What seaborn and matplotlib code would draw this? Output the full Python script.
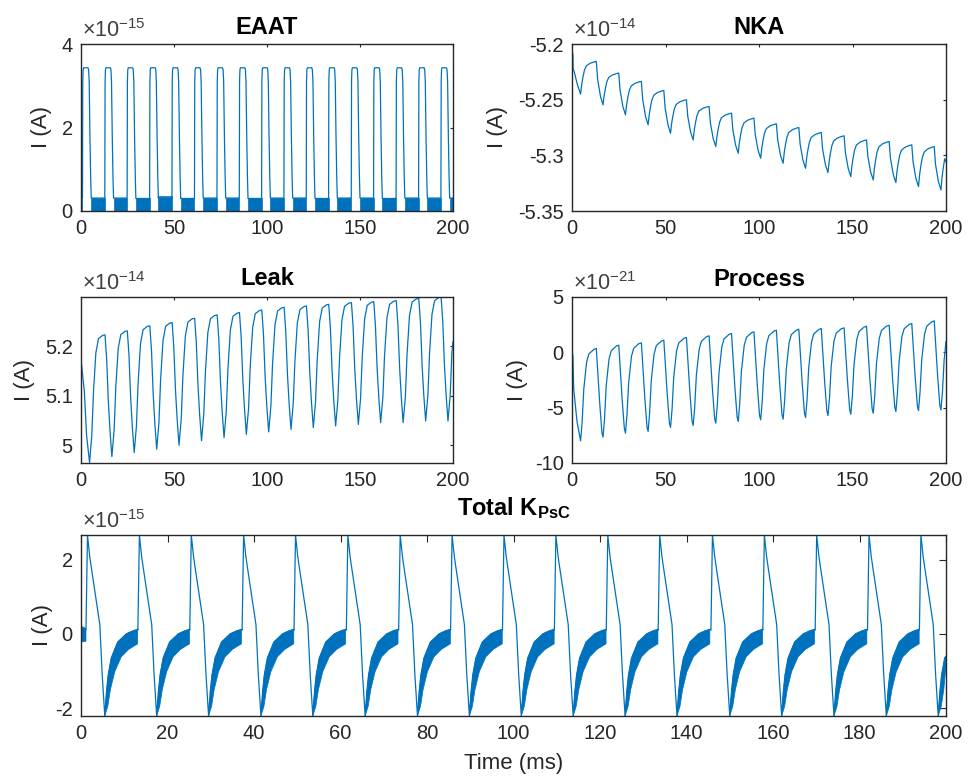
import numpy as np
import matplotlib
matplotlib.use("Agg")
import matplotlib.pyplot as plt
import seaborn as sns

# ------------------------------------------------------------------
# Values
# ------------------------------------------------------------------
# time (ms) of each Total K_PsC spike peak (17 cycles)
peak_times = [1.5, 13.5, 25.5, 37.6, 49.6, 61.7, 73.8, 85.8, 97.8,
              109.8, 121.8, 133.8, 146.0, 158.0, 170.1, 182.2, 194.2]

# ---- EAAT (x1e-15 A): one pulse, ms relative to peak time
eaat_pulse_off = [-0.7, -0.55, -0.35, -0.1, 2.3, 2.6, 2.9, 3.3, 3.7, 4.0]
eaat_pulse_val = [0.31, 3.1, 3.38, 3.43, 3.43, 3.38, 3.1, 1.8, 0.8, 0.31]
# upper edge of the dense band between pulses (one per gap)
eaat_band_top = [0.31, 0.31, 0.30, 0.34, 0.30, 0.31, 0.31, 0.30, 0.31,
                 0.31, 0.30, 0.31, 0.31, 0.30, 0.31, 0.31, 0.31]
eaat_band_bottom = 0.0

# ---- NKA (x1e-14 A)
nka_start_t = [0.0, 0.5, 0.6, 1.3, 2.8]
nka_start_v = [-5.205, -5.210, -5.222, -5.2256, -5.236]
nka_peaks = [-5.205, -5.2156, -5.2261, -5.2336, -5.2417, -5.2501, -5.2561,
             -5.2621, -5.2666, -5.2717, -5.2750, -5.2795, -5.2825, -5.2861,
             -5.2876, -5.2906, -5.2921]
nka_troughs = [-5.2450, -5.2546, -5.2636, -5.2726, -5.2801, -5.2861, -5.2921,
               -5.2981, -5.3026, -5.3071, -5.3116, -5.3155, -5.3191, -5.3221,
               -5.3245, -5.3281, -5.3311]
nka_end = -5.306
nka_drop_off = [-3.6, -2.9, -1.4, 0.0]
nka_drop_frac = [0.0, 0.41, 0.80, 1.0]
nka_rise_off = [0.0, 0.6, 1.2, 2.0, 3.0, 5.0, 7.0]
nka_rise_frac = [0.0, 0.30, 0.50, 0.72, 0.86, 0.94, 0.98]

# ---- Leak (x1e-14 A)
leak_start_t = [0.0, 0.1, 1.8, 3.0]
leak_start_v = [5.213, 5.170, 5.109, 5.020]
leak_peaks = [5.213, 5.2235, 5.2315, 5.2416, 5.2483, 5.2570, 5.2637, 5.2685,
              5.2738, 5.2792, 5.2819, 5.2852, 5.2886, 5.2906, 5.2926, 5.2973,
              5.3000]
leak_troughs = [4.965, 4.977, 4.985, 4.992, 5.000, 5.009, 5.0155, 5.022,
                5.027, 5.032, 5.0356, 5.039, 5.042, 5.0456, 5.0456, 5.049,
                5.049]
leak_end = 5.21
leak_drop_off = [-3.7, -2.8, -1.9, -1.0, 0.0]
leak_drop_frac = [0.0, 0.20, 0.55, 0.79, 1.0]
leak_rise_off = [0.0, 1.2, 2.1, 3.4, 4.8, 7.0]
leak_rise_frac = [0.0, 0.21, 0.55, 0.86, 0.97, 0.995]

# ---- Process (x1e-21 A)
proc_start_t = [0.0, 0.5, 0.9, 2.7]
proc_start_v = [0.02, -0.3, -3.28, -6.28]
proc_peaks = [0.02, 0.35, 0.65, 0.86, 1.10, 1.34, 1.49, 1.70, 1.85, 2.00,
              2.09, 2.15, 2.21, 2.36, 2.45, 2.60, 2.84]
proc_troughs = [-8.0, -7.66, -7.30, -7.15, -6.79, -6.61, -6.40, -6.25, -6.10,
                -6.04, -5.89, -5.71, -5.59, -5.50, -5.35, -5.26, -5.20]
proc_end = 1.0
proc_drop_off = [-3.6, -2.9, -1.8, -0.6, 0.0]
proc_drop_frac = [0.0, 0.23, 0.61, 0.95, 1.0]
proc_rise_off = [0.0, 0.8, 1.7, 3.2, 4.4, 7.1]
proc_rise_frac = [0.0, 0.20, 0.56, 0.85, 0.94, 0.99]

# ---- Total K_PsC (x1e-15 A): spike, ms relative to peak time
tot_spike_off = [-0.35, 0.0, 0.5, 0.8, 2.85, 3.4, 4.0]
tot_spike_val = [0.10, 2.66, 2.10, 1.85, 0.25, -1.10, -2.21]
# dense recovery band, ms relative to trough
tot_up_off = [0.0, 0.4, 0.8, 1.5, 3.0, 5.0, 6.5, 7.6]
tot_up_val = [-2.21, -1.55, -1.10, -0.65, -0.22, 0.0, 0.08, 0.12]
tot_lo_off = [0.0, 0.7, 1.3, 2.3, 3.8, 5.5, 7.0, 7.6]
tot_lo_val = [-2.21, -1.95, -1.50, -1.02, -0.62, -0.42, -0.31, -0.27]
tot_start_up = [0.20, 0.15]
tot_start_lo = [-0.22, -0.20]
tot_end_up = -0.60
tot_end_lo = -0.85

TROUGH_LAG = 3.1
BLUE = "#0072BD"
GREY = "#262626"

# ------------------------------------------------------------------
sns.set_theme(style="white")
plt.rcParams["font.family"] = ["Liberation Sans", "DejaVu Sans"]
plt.rcParams["mathtext.fontset"] = "custom"
plt.rcParams["mathtext.rm"] = "Liberation Sans"
plt.rcParams["mathtext.bf"] = "Liberation Sans:bold"
plt.rcParams["mathtext.it"] = "Liberation Sans:italic"
plt.rcParams["mathtext.sf"] = "Liberation Sans"
plt.rcParams["axes.unicode_minus"] = False


def build_smooth(start_t, start_v, peaks, troughs, d_off, d_frac, r_off, r_frac, end_v):
    t, v = list(start_t), list(start_v)
    n = len(troughs)
    for k in range(n):
        tau = peak_times[k] + TROUGH_LAG
        P, T = peaks[k], troughs[k]
        if k == 0:
            t.append(tau); v.append(T)
        else:
            for o, f in zip(d_off, d_frac):
                t.append(tau + o); v.append(P + f * (T - P))
        if k + 1 < n:
            Pn = peaks[k + 1]
            t_next = peak_times[k + 1] + TROUGH_LAG + d_off[0]
        else:
            Pn = peaks[k]
            t_next = 200.0
        for o, f in zip(r_off[1:], r_frac[1:]):
            if tau + o < t_next:
                t.append(tau + o); v.append(T + f * (Pn - T))
    t.append(200.0); v.append(end_v)
    return t, v


def build_eaat():
    lt, lv = [0.0], [eaat_band_top[0]]
    polys = [([0.0, peak_times[0] + eaat_pulse_off[0], peak_times[0] + eaat_pulse_off[0], 0.0],
              [eaat_band_top[0], eaat_band_top[0], eaat_band_bottom, eaat_band_bottom])]
    n = len(peak_times)
    for k, p in enumerate(peak_times):
        for o, val in zip(eaat_pulse_off, eaat_pulse_val):
            lt.append(p + o); lv.append(val)
        t0 = p + eaat_pulse_off[-1]
        t1 = peak_times[k + 1] + eaat_pulse_off[0] if k + 1 < n else 200.0
        top = eaat_band_top[k]
        lt += [t0, t1]; lv += [top, top]
        polys.append(([t0, t1, t1, t0], [top, top, eaat_band_bottom, eaat_band_bottom]))
    return lt, lv, polys


def build_total():
    t_rise0 = peak_times[0] + tot_spike_off[0]
    lt, lv = [0.0], [tot_start_up[0]]
    polys = [([0.0, t_rise0, t_rise0, 0.0],
              [tot_start_up[0], tot_start_up[1], tot_start_lo[1], tot_start_lo[0]])]
    n = len(peak_times)
    for k, p in enumerate(peak_times):
        for o, val in zip(tot_spike_off, tot_spike_val):
            lt.append(p + o); lv.append(val)
        tau = p + tot_spike_off[-1]
        last = k + 1 == n
        t_end = 200.0 if last else peak_times[k + 1] + tot_spike_off[0]
        ut = [tau + o for o in tot_up_off if tau + o < t_end]
        uv = [val for o, val in zip(tot_up_off, tot_up_val) if tau + o < t_end]
        bt = [tau + o for o in tot_lo_off if tau + o < t_end]
        bv = [val for o, val in zip(tot_lo_off, tot_lo_val) if tau + o < t_end]
        if last:
            ut.append(200.0); uv.append(tot_end_up)
            bt.append(200.0); bv.append(tot_end_lo)
        lt += ut; lv += uv
        polys.append((ut + bt[::-1], uv + bv[::-1]))
    return lt, lv, polys


fig = plt.figure(figsize=(9.69, 7.79), dpi=100)
W, H = 969.0, 779.0


def add_ax(x0, x1, y0, y1):
    return fig.add_axes([x0 / W, 1 - y1 / H, (x1 - x0) / W, (y1 - y0) / H])


ax_eaat = add_ax(81, 453, 44, 211)
ax_nka = add_ax(572, 946, 44, 211)
ax_leak = add_ax(81, 453, 297, 463)
ax_proc = add_ax(572, 946, 297, 463)
ax_tot = add_ax(81, 946, 535, 716)


def style(ax, yticks, ylabels, ylim, xticks, title, title_pad, exp, ylab_x, ticklen):
    ax.set_xlim(0, 200)
    ax.set_ylim(*ylim)
    ax.set_xticks(xticks)
    ax.set_xticklabels([str(x) for x in xticks])
    ax.set_yticks(yticks)
    ax.set_yticklabels(ylabels)
    ax.tick_params(direction="in", length=ticklen, width=0.8, top=True, right=True,
                   labelsize=14.5, colors=GREY, pad=6)
    for s in ax.spines.values():
        s.set_color(GREY)
        s.set_linewidth(1.0)
    ax.set_title(title, fontsize=17, fontweight="bold", color="black", pad=title_pad)
    ax.set_ylabel("I (A)", fontsize=16, color=GREY, va="center")
    ax.yaxis.set_label_coords(ylab_x, 0.5)
    ax.annotate("×10$^{%d}$" % exp, xy=(0, 1), xycoords="axes fraction",
                xytext=(1, 5), textcoords="offset points", ha="left", va="baseline",
                fontsize=15.5, color="#404040")
    ax.grid(False)
    ax.set_facecolor("white")


# EAAT
lt, lv, polys = build_eaat()
for px, py in polys:
    ax_eaat.fill(px, py, color=BLUE, lw=0.5)
sns.lineplot(x=lt, y=lv, ax=ax_eaat, color=BLUE, linewidth=0.9, estimator=None, sort=False)
style(ax_eaat, [0, 2, 4], ["0", "2", "4"], (0, 4), [0, 50, 100, 150, 200],
      "EAAT", 7.5, -15, -0.105, 2.5)

# NKA
t, v = build_smooth(nka_start_t, nka_start_v, nka_peaks, nka_troughs,
                    nka_drop_off, nka_drop_frac, nka_rise_off, nka_rise_frac, nka_end)
sns.lineplot(x=t, y=v, ax=ax_nka, color=BLUE, linewidth=0.9, estimator=None, sort=False)
style(ax_nka, [-5.35, -5.3, -5.25, -5.2], ["-5.35", "-5.3", "-5.25", "-5.2"],
      (-5.35, -5.2), [0, 50, 100, 150, 200], "NKA", 7.5, -14, -0.198, 2.5)

# Leak
t, v = build_smooth(leak_start_t, leak_start_v, leak_peaks, leak_troughs,
                    leak_drop_off, leak_drop_frac, leak_rise_off, leak_rise_frac, leak_end)
sns.lineplot(x=t, y=v, ax=ax_leak, color=BLUE, linewidth=0.9, estimator=None, sort=False)
style(ax_leak, [5.0, 5.1, 5.2], ["5", "5.1", "5.2"], (4.964, 5.300),
      [0, 50, 100, 150, 200], "Leak", 8.4, -14, -0.153, 2.5)

# Process
t, v = build_smooth(proc_start_t, proc_start_v, proc_peaks, proc_troughs,
                    proc_drop_off, proc_drop_frac, proc_rise_off, proc_rise_frac, proc_end)
sns.lineplot(x=t, y=v, ax=ax_proc, color=BLUE, linewidth=0.9, estimator=None, sort=False)
style(ax_proc, [-10, -5, 0, 5], ["-10", "-5", "0", "5"], (-10, 5),
      [0, 50, 100, 150, 200], "Process", 7.7, -21, -0.147, 2.5)

# Total K_PsC
lt, lv, polys = build_total()
for px, py in polys:
    ax_tot.fill(px, py, color=BLUE, lw=0.5)
sns.lineplot(x=lt, y=lv, ax=ax_tot, color=BLUE, linewidth=0.9, estimator=None, sort=False)
style(ax_tot, [-2, 0, 2], ["-2", "0", "2"], (-2.21, 2.66),
      list(range(0, 201, 20)), "Total K$_{\\mathbf{PsC}}$", 14, -15, -0.045, 5)
ax_tot.set_xlabel("Time (ms)", fontsize=16, color=GREY, labelpad=7)

fig.savefig("out.png", dpi=100, facecolor="white")
